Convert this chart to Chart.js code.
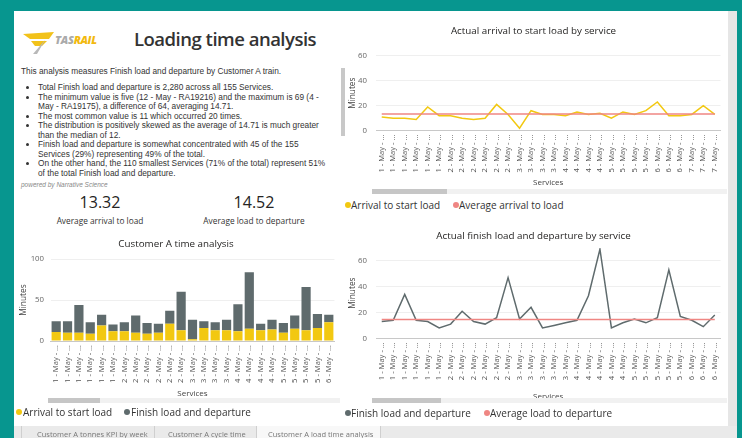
<!DOCTYPE html>
<html>
<head>
<meta charset="utf-8">
<script src="https://cdn.jsdelivr.net/npm/chart.js@4.4.0/dist/chart.umd.min.js"></script>
<style>
html,body{margin:0;padding:0;}
body{width:742px;height:438px;background:#07968f;position:relative;overflow:hidden;font-family:"Open Sans",sans-serif;color:#252423;}
.abs{position:absolute;}
#panel{left:14px;top:11px;width:714px;height:415px;background:#fff;}
#vscroll{left:728px;top:11px;width:9px;height:415px;background:#e6e6e6;}
#tabs{left:14px;top:426px;width:723px;height:12px;background:#eaeaea;}
.tab{position:absolute;top:3px;font-size:7.5px;color:#777;white-space:nowrap;}
.sep{position:absolute;top:0;width:1px;height:12px;background:#cfcfcf;}
#title{left:134px;top:26px;font-size:18.5px;font-weight:600;color:#333;white-space:nowrap;letter-spacing:-0.5px;}
.txt{font-family:"Liberation Sans",Arial,sans-serif;font-size:8.3px;color:#333;white-space:nowrap;line-height:9.5px;}
#bullets{left:21px;top:83px;margin:0;padding:0 0 0 17px;}
#bullets li{margin:0;padding:0;}
#powered{left:21px;top:181px;font-family:"Liberation Sans",Arial,sans-serif;font-style:italic;font-size:6.5px;color:#888;}
.kpi{font-size:16px;text-align:center;width:160px;}
.kpil{font-size:8.3px;text-align:center;width:160px;color:#333;}
.leg{position:absolute;font-size:10px;color:#333;white-space:nowrap;line-height:12px;}
.dot{position:absolute;width:6px;height:6px;border-radius:3px;}
.track{position:absolute;height:5px;background:#f1f1f1;}
.thumb{position:absolute;left:0;top:0;height:5px;background:#c6c6c6;}
canvas{position:absolute;}
</style>
</head>
<body>
<div class="abs" id="panel"></div>
<div class="abs" id="vscroll"></div>

<svg class="abs" style="left:22px;top:30px" width="36" height="26" viewBox="0 0 36 26">
  <polygon points="1,4 32,2 27,9 8,9" fill="#f2c21a"/>
  <polygon points="9,11 25,11 20,16 13,16" fill="#f2c21a"/>
  <polygon points="23,10 11,24 15,24" fill="#b8b8b8"/>
</svg>
<div class="abs" style="left:55px;top:32px;font-size:11px;font-weight:800;font-style:italic;white-space:nowrap;letter-spacing:-0.3px"><span style="color:#aaa">TAS</span><span style="color:#f2b90f">RAIL</span></div>
<div class="abs" id="title">Loading time analysis</div>

<div class="abs txt" style="left:21px;top:67px">This analysis measures Finish load and departure by Customer A train.</div>
<ul class="abs txt" id="bullets">
  <li>Total Finish load and departure is 2,280 across all 155 Services.</li>
  <li>The minimum value is five (12 - May - RA19216) and the maximum is 69 (4 -<br>May - RA19175), a difference of 64, averaging 14.71.</li>
  <li>The most common value is 11 which occurred 20 times.</li>
  <li>The distribution is positively skewed as the average of 14.71 is much greater<br>than the median of 12.</li>
  <li>Finish load and departure is somewhat concentrated with 45 of the 155<br>Services (29%) representing 49% of the total.</li>
  <li>On the other hand, the 110 smallest Services (71% of the total) represent 51%<br>of the total Finish load and departure.</li>
</ul>
<div class="abs" id="powered">powered by Narrative Science</div>
<div class="abs" style="left:341px;top:68px;width:4px;height:68px;background:#c8c8c8"></div>

<div class="abs kpi" style="left:20px;top:191px">13.32</div>
<div class="abs kpil" style="left:20px;top:215px">Average arrival to load</div>
<div class="abs kpi" style="left:174px;top:191px">14.52</div>
<div class="abs kpil" style="left:174px;top:215px">Average load to departure</div>

<canvas id="arrival" width="383" height="174" style="left:345px;top:14px"></canvas>
<canvas id="timeBars" width="328" height="169" style="left:14px;top:230px"></canvas>
<canvas id="finish" width="383" height="180" style="left:345px;top:222px"></canvas>

<div class="track" style="left:372px;top:189px;width:355px"><div class="thumb" style="width:75px"></div></div>
<div class="track" style="left:48px;top:398px;width:292px"><div class="thumb" style="width:52px"></div></div>
<div class="track" style="left:372px;top:398px;width:355px"><div class="thumb" style="width:69px"></div></div>

<div class="dot" style="left:345px;top:202px;background:#f2c811"></div>
<div class="leg" style="left:351px;top:199px">Arrival to start load</div>
<div class="dot" style="left:453px;top:202px;background:#ef8683"></div>
<div class="leg" style="left:459px;top:199px">Average arrival to load</div>

<div class="dot" style="left:16px;top:409px;background:#f2c811"></div>
<div class="leg" style="left:23px;top:406px">Arrival to start load</div>
<div class="dot" style="left:124px;top:409px;background:#5f6b6d"></div>
<div class="leg" style="left:131px;top:406px">Finish load and departure</div>

<div class="dot" style="left:345px;top:410px;background:#5f6b6d"></div>
<div class="leg" style="left:351px;top:407px">Finish load and departure</div>
<div class="dot" style="left:484px;top:410px;background:#ef8683"></div>
<div class="leg" style="left:490px;top:407px">Average load to departure</div>

<div class="abs" id="tabs">
  <div class="sep" style="left:7px"></div>
  <div class="tab" style="left:23px">Customer A tonnes KPI by week</div>
  <div class="sep" style="left:140px"></div>
  <div class="tab" style="left:154px">Customer A cycle time</div>
  <div class="sep" style="left:242px"></div>
  <div style="position:absolute;left:243px;top:0;width:123px;height:12px;background:#f8f8f8"></div>
  <div class="tab" style="left:254px">Customer A load time analysis</div>
  <div class="sep" style="left:366px"></div>
</div>

<script>
// day of May for each service shown (labels are truncated in the report)
const arrivalDays = [1,1,1,1,1,1, 2,2,2,2,2,2, 3,3,3,3, 4,4,4,4, 5,5,5,5, 6,6,6, 7,7,7];
const arrivalToStart = [11,10,10,9,19,12,12,10,9,10,21,13,2,16,13,13,12,15,13,14,10,15,13,16,23,12,12,13,20,13];
const avgArrival = 13.32;

const finishDays = [1,1,1,1,1,1, 2,2,2,2,2,2, 3,3,3,3,3, 4,4,4,4,4, 5,5,5,5,5, 6,6,6];
const finishLoad = [13,14,34,14,13,8,11,21,13,11,16,47,15,24,8,10,12,14,33,69,8,12,15,12,16,53,17,14,9,18];
const avgFinish = 14.52;

const barDays = [1,1,1,1,1,1, 2,2,2,2,2,2, 3,3,3,3, 4,4,4,4, 5,5,5,5, 6];
const barArrival = [11,10,10,9,19,12,12,10,9,10,21,13,2,16,13,13,12,15,13,14,10,15,13,16,23];
const barFinish = [13,14,34,14,13,8,11,21,13,11,16,47,24,8,10,13,33,69,8,12,12,16,53,17,9];

const YELLOW = "#f2c811";
const GRAY = "#5f6b6d";
const RED = "#ef8683";

Chart.defaults.font.family = "'Open Sans', sans-serif";
Chart.defaults.animation = false;

function lbl(d) { return d + " - May - \u2026"; }

// two point reference line: first and last category, gaps spanned
function avgLine(n, v) {
    return Array.from({length: n}, (_, i) => (i === 0 || i === n - 1) ? v : null);
}

function axes(yMax, step, yWidth, yPad, yTitlePad, xHeight) {
    return {
        x: {
            offset: true,
            grid: { display: false, drawTicks: false },
            border: { display: true, color: "#c8c8c8" },
            ticks: { autoSkip: false, minRotation: 90, maxRotation: 90, padding: 4, color: "#555", font: { size: 7.6 } },
            title: { display: true, text: "Services", color: "#444", font: { size: 8 }, padding: 0 },
            afterFit: function (s) { s.height = xHeight; }
        },
        y: {
            min: 0,
            max: yMax,
            grid: { color: "#efefef", drawTicks: false },
            border: { display: false },
            ticks: { stepSize: step, padding: yPad, color: "#666", font: { size: 7.8 } },
            title: { display: true, text: "Minutes", color: "#444", font: { size: 8.3 }, padding: { top: yTitlePad, bottom: 0 } },
            afterBuildTicks: function (s) { s.ticks = s.ticks.filter(t => t.value % step === 0); },
            afterFit: function (s) { s.width = yWidth; }
        }
    };
}

new Chart(document.getElementById("arrival"), {
    type: "line",
    data: {
        labels: arrivalDays.map(lbl),
        datasets: [
            { label: "Average arrival to load", data: avgLine(arrivalDays.length, avgArrival), spanGaps: true, borderColor: RED, borderWidth: 1.5, pointRadius: 0 },
            { label: "Arrival to start load", data: arrivalToStart, borderColor: YELLOW, borderWidth: 1.5, pointRadius: 0 }
        ]
    },
    options: {
        responsive: false,
        layout: { padding: { left: 0, right: 6, top: 0, bottom: 0 } },
        plugins: {
            legend: { display: false },
            tooltip: { enabled: false },
            title: { display: true, text: "Actual arrival to start load by service", color: "#252423", font: { size: 9.8, weight: "normal" }, padding: { top: 11.2, bottom: 18.7 } }
        },
        scales: axes(60, 20, 31, 9, 2.5, 57.3)
    }
});

new Chart(document.getElementById("finish"), {
    type: "line",
    data: {
        labels: finishDays.map(lbl),
        datasets: [
            { label: "Average load to departure", data: avgLine(finishDays.length, avgFinish), spanGaps: true, borderColor: RED, borderWidth: 1.5, pointRadius: 0 },
            { label: "Finish load and departure", data: finishLoad, borderColor: GRAY, borderWidth: 1.5, pointRadius: 0 }
        ]
    },
    options: {
        responsive: false,
        layout: { padding: { left: 0, right: 6, top: 0, bottom: 0 } },
        plugins: {
            legend: { display: false },
            tooltip: { enabled: false },
            title: { display: true, text: "Actual finish load and departure by service", color: "#252423", font: { size: 9.8, weight: "normal" }, padding: { top: 8.2, bottom: 6 } }
        },
        scales: axes(70, 20, 31, 9, 2.5, 63.7)
    }
});

const barScales = axes(100, 50, 36.5, 6.5, 4.3, 58);
barScales.x.stacked = true;
barScales.y.stacked = true;

new Chart(document.getElementById("timeBars"), {
    type: "bar",
    data: {
        labels: barDays.map(lbl),
        datasets: [
            { label: "Arrival to start load", data: barArrival, backgroundColor: YELLOW, barPercentage: 0.81, categoryPercentage: 1 },
            { label: "Finish load and departure", data: barFinish, backgroundColor: GRAY, barPercentage: 0.81, categoryPercentage: 1 }
        ]
    },
    options: {
        responsive: false,
        layout: { padding: { left: 0, right: 4, top: 0, bottom: 0 } },
        plugins: {
            legend: { display: false },
            tooltip: { enabled: false },
            title: { display: true, text: "Customer A time analysis", color: "#252423", font: { size: 9.8, weight: "normal" }, padding: { top: 8.2, bottom: 9.1 } }
        },
        scales: barScales
    }
});
</script>
</body>
</html>
